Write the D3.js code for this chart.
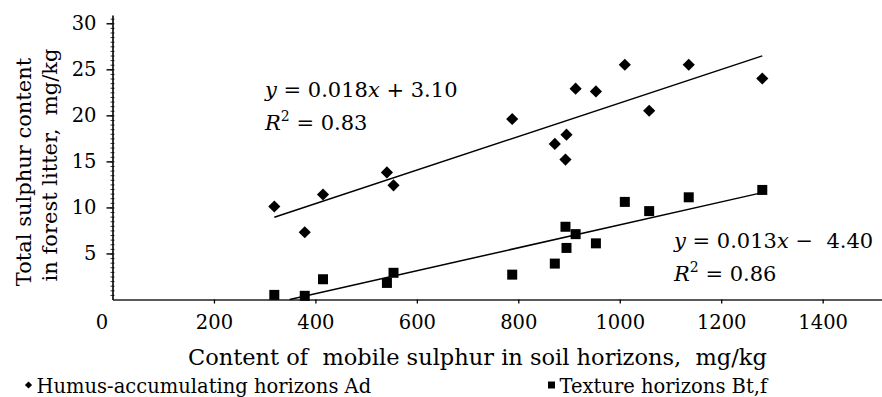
<!DOCTYPE html>
<html>
<head>
<meta charset="utf-8">
<script src="https://cdn.jsdelivr.net/npm/d3@7"></script>
<style>
  body { margin: 0; background: #fff; }
  svg text { font-family: "DejaVu Serif", serif; fill: #000; white-space: pre; }
</style>
</head>
<body>
<script>
// mobile sulphur in soil horizons (same samples for both series), mg/kg
const sampleX = [319, 379, 415, 541, 554, 788, 872, 893, 895, 913, 953, 1010, 1058, 1136, 1281];
// total sulphur in forest litter, mg/kg
const humusY = [10.1, 7.3, 11.4, 13.8, 12.4, 19.6, 16.9, 15.2, 17.9, 22.9, 22.6, 25.5, 20.5, 25.5, 24.0];
const textureY = [0.5, 0.4, 2.2, 1.8, 2.9, 2.7, 3.9, 7.9, 5.6, 7.1, 6.1, 10.6, 9.6, 11.1, 11.9];

const xTicks = [0, 200, 400, 600, 800, 1000, 1200, 1400];
const yTicks = [5, 10, 15, 20, 25, 30];
const seriesNames = ["Humus-accumulating horizons Ad", "Texture horizons Bt,f"];
const eqSlopes = ["0.018", "0.013"];
const eqSigns = ["+ ", "\u2212  "];
const eqIntercepts = ["3.10", "4.40"];
const eqR2 = ["0.83", "0.86"];

const w = 882;
const h = 397;

const xScale = d3.scaleLinear().domain([0, 1517]).range([112.5, w]);
const yScale = d3.scaleLinear().domain([0, 30.9]).range([299.5, 15]);

const svg = d3.select("body").append("svg")
  .attr("width", w)
  .attr("height", h);

svg.append("rect").attr("width", w).attr("height", h).attr("fill", "#fff");

// x axis
const gx = svg.append("g")
  .attr("transform", "translate(0," + yScale(0) + ")")
  .call(d3.axisBottom(xScale).tickValues(xTicks).tickSize(4).tickSizeOuter(0).tickPadding(12).tickFormat(d3.format("d")));
gx.select(".domain").attr("stroke", "#222").attr("stroke-width", 1.3);
gx.selectAll(".tick line").attr("stroke", "#000").attr("stroke-width", 1.3);
gx.selectAll(".tick text").attr("font-size", 19.5).attr("font-family", null);
gx.selectAll(".tick").filter(d => d === 0).select("line").remove();
gx.selectAll(".tick").filter(d => d === 0).select("text").attr("dx", -11);

// y axis, minor ticks then major
const minor = d3.range(0.5, 30.9, 0.5);
svg.append("g")
  .attr("transform", "translate(" + xScale(0) + ",0)")
  .call(d3.axisLeft(yScale).tickValues(minor).tickSize(2).tickFormat(""))
  .call(g => g.select(".domain").remove())
  .selectAll("line").attr("stroke-width", 0.8);
svg.append("g")
  .attr("transform", "translate(" + xScale(0) + ",0)")
  .call(d3.axisRight(yScale).tickValues(minor).tickSize(2).tickFormat(""))
  .call(g => g.select(".domain").remove())
  .selectAll("line").attr("stroke-width", 0.8);

const gy = svg.append("g")
  .attr("transform", "translate(" + xScale(0) + ",0)")
  .call(d3.axisLeft(yScale).tickValues(yTicks).tickSize(6).tickSizeOuter(0).tickPadding(10));
gy.select(".domain").attr("stroke-width", 1.6);
gy.selectAll(".tick line").attr("stroke-width", 1.4);
gy.selectAll(".tick text").attr("font-size", 19.5).attr("font-family", null);

// regression lines
function fit(xs, ys) {
  const mx = d3.mean(xs), my = d3.mean(ys);
  const sxy = d3.sum(xs, (v, i) => (v - mx) * (ys[i] - my));
  const sxx = d3.sum(xs, v => (v - mx) * (v - mx));
  const a = sxy / sxx;
  return [a, my - a * mx];
}
const line = d3.line().x(d => xScale(d[0])).y(d => yScale(d[1]));
[humusY, textureY].forEach(ys => {
  const [a, b] = fit(sampleX, ys);
  const x0 = Math.max(d3.min(sampleX), -b / a);
  const x1 = d3.max(sampleX);
  svg.append("path")
    .attr("d", line([[x0, a * x0 + b], [x1, a * x1 + b]]))
    .attr("fill", "none")
    .attr("stroke", "#000")
    .attr("stroke-width", 1.5);
});

// points
const diamond = d3.symbol(d3.symbolSquare, 74);
const square = d3.symbol(d3.symbolSquare, 100);
svg.append("g").selectAll("path")
  .data(sampleX)
  .enter().append("path")
  .attr("d", diamond)
  .attr("transform", (d, i) => "translate(" + xScale(d) + "," + yScale(humusY[i]) + ") rotate(45)")
  .attr("fill", "#000");
svg.append("g").selectAll("path")
  .data(sampleX)
  .enter().append("path")
  .attr("d", square)
  .attr("transform", (d, i) => "translate(" + xScale(d) + "," + yScale(textureY[i]) + ")")
  .attr("fill", "#000");

// equations
const eqPos = [[265, 97], [674, 248]];
eqPos.forEach((p, i) => {
  const t = svg.append("text").attr("x", p[0]).attr("y", p[1]).attr("font-size", 21);
  t.append("tspan").attr("font-style", "italic").text("y");
  t.append("tspan").text(" = " + eqSlopes[i]);
  t.append("tspan").attr("font-style", "italic").text("x");
  t.append("tspan").text(" " + eqSigns[i] + eqIntercepts[i]);

  const r = svg.append("text").attr("x", p[0]).attr("y", p[1] + 33).attr("font-size", 21);
  r.append("tspan").attr("font-style", "italic").text("R");
  r.append("tspan").attr("dy", -9).attr("font-size", 14).text("2");
  r.append("tspan").attr("dy", 9).text(" = " + eqR2[i]);
});

// axis titles
svg.append("text")
  .attr("x", 188).attr("y", 365)
  .attr("font-size", 22.5)
  .text("Content of  mobile sulphur in soil horizons,  mg/kg");

svg.append("text")
  .attr("transform", "translate(31,172) rotate(-90)")
  .attr("text-anchor", "middle")
  .attr("font-size", 21)
  .text("Total sulphur content");
svg.append("text")
  .attr("transform", "translate(57,165) rotate(-90)")
  .attr("text-anchor", "middle")
  .attr("font-size", 21)
  .text("in forest litter,  mg/kg");

// legend
const legX = [28.5, 551.5];
svg.append("path")
  .attr("d", d3.symbol(d3.symbolSquare, 26)())
  .attr("transform", "translate(" + legX[0] + ",385) rotate(45)");
svg.append("path")
  .attr("d", d3.symbol(d3.symbolSquare, 49)())
  .attr("transform", "translate(" + legX[1] + ",385)");
seriesNames.forEach((s, i) => {
  svg.append("text")
    .attr("x", legX[i] + 8).attr("y", 393)
    .attr("font-size", 19.5)
    .text(s);
});
</script>
</body>
</html>
